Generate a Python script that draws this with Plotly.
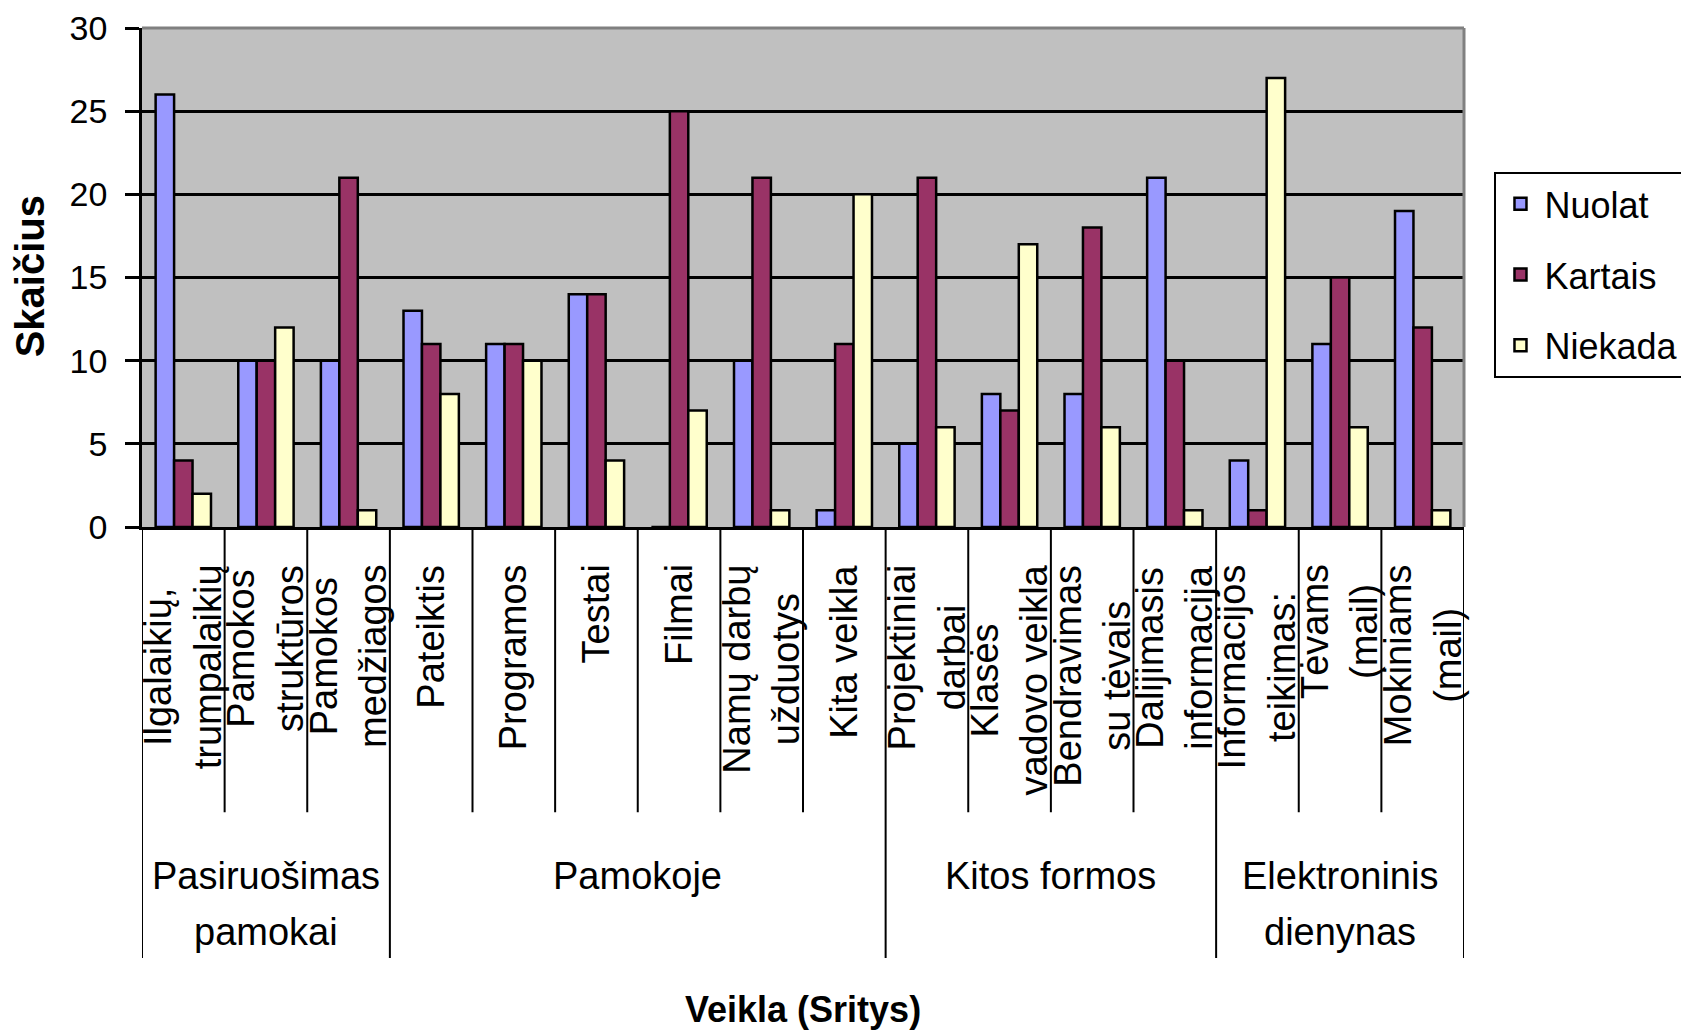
import plotly.graph_objects as go

# ---- data ----
category_lines = [
    ["Ilgalaikių,", "trumpalaikių"],
    ["Pamokos", "struktūros"],
    ["Pamokos", "medžiagos"],
    ["Pateiktis"],
    ["Programos"],
    ["Testai"],
    ["Filmai"],
    ["Namų darbų", "užduotys"],
    ["Kita veikla"],
    ["Projektiniai", "darbai"],
    ["Klasės", "vadovo veikla"],
    ["Bendravimas", "su tėvais"],
    ["Dalijimasis", "informacija"],
    ["Informacijos", "teikimas:"],
    ["Tėvams", "(mail)"],
    ["Mokiniams", "(mail)"],
]
categories = [" ".join(l) for l in category_lines]

group_lines = [["Pasiruošimas", "pamokai"], ["Pamokoje"], ["Kitos formos"], ["Elektroninis", "dienynas"]]
group_sizes = [3, 6, 4, 3]

nuolat = [26, 10, 10, 13, 11, 14, 0, 10, 1, 5, 8, 8, 21, 4, 11, 19]
kartais = [4, 10, 21, 11, 11, 14, 25, 21, 11, 21, 7, 18, 10, 1, 15, 12]
niekada = [2, 12, 1, 8, 10, 4, 7, 1, 20, 6, 17, 6, 1, 27, 6, 1]

series = [("Nuolat", nuolat, "#9999FF"), ("Kartais", kartais, "#993366"), ("Niekada", niekada, "#FFFFCC")]

# ---- geometry (pixels) ----
W, H = 1681, 1030
PL, PR, PT, PB = 141.5, 1464.5, 28, 527.5
plot_h = PB - PT

def py(y_px):
    return (PB - y_px) / plot_h

FONT = "Liberation Sans, Arial, sans-serif"

fig = go.Figure()
for i, (name, vals, col) in enumerate(series):
    fig.add_trace(go.Bar(
        x=categories, y=vals, name=name, legendgroup=name,
        marker=dict(color=col, line=dict(color="black", width=2.5)),
    ))

shapes = []
annotations = []

# category dividers
bounds = [0]
for s in group_sizes:
    bounds.append(bounds[-1] + s)
for i in range(len(categories) + 1):
    is_group = i in bounds
    shapes.append(dict(type="line", xref="x", yref="paper",
                       x0=i - 0.5, x1=i - 0.5, y0=0, y1=py(959 if is_group else 813),
                       line=dict(color="black", width=2), layer="above"))

# category labels (rotated)
for cat, lines in zip(categories, category_lines):
    annotations.append(dict(xref="x", yref="paper", x=cat, y=py(563),
                            text="<br>".join(lines), textangle=-90, showarrow=False,
                            xanchor="center", yanchor="top", align="center",
                            font=dict(family=FONT, size=38, color="black")))

# group labels
for gi, lines in enumerate(group_lines):
    cx = (bounds[gi] + bounds[gi + 1] - 1) / 2.0
    for li, txt in enumerate(lines):
        annotations.append(dict(xref="x", yref="paper", x=cx, y=py(877 + 56 * li),
                                text=txt, showarrow=False, xanchor="center", yanchor="middle",
                                font=dict(family=FONT, size=38, color="black")))

# axis titles
annotations.append(dict(xref="paper", yref="paper", x=0.5, y=py(1010), text="<b>Veikla (Sritys)</b>",
                        showarrow=False, xanchor="center", yanchor="middle",
                        font=dict(family=FONT, size=36, color="black")))
annotations.append(dict(xref="paper", yref="paper", x=(29 - PL) / (PR - PL), y=py(277), text="<b>Skaičius</b>",
                        textangle=-90, showarrow=False, xanchor="center", yanchor="middle",
                        font=dict(family=FONT, size=40, color="black")))

# top / right plot border (gray)
shapes.append(dict(type="line", xref="paper", yref="paper", x0=0, x1=1, y0=1, y1=1,
                   line=dict(color="#808080", width=3), layer="above"))
shapes.append(dict(type="line", xref="paper", yref="paper", x0=1, x1=1, y0=0, y1=1,
                   line=dict(color="#808080", width=3), layer="above"))

fig.update_layout(
    width=W, height=H,
    margin=dict(l=PL, r=W - PR, t=PT, b=H - PB, autoexpand=False),
    paper_bgcolor="white", plot_bgcolor="#C0C0C0",
    barmode="group", bargap=0.33, bargroupgap=0,
    font=dict(family=FONT, color="black"),
    xaxis=dict(type="category", categoryarray=categories, range=[-0.5, len(categories) - 0.5],
               showticklabels=False, ticks="", showgrid=False, zeroline=False,
               showline=True, linecolor="black", linewidth=2.5),
    yaxis=dict(range=[0, 30], dtick=5, tick0=0, showgrid=True, gridcolor="black", gridwidth=2.5,
               zeroline=False, showline=True, linecolor="black", linewidth=2.5,
               ticks="outside", ticklen=14, tickwidth=2.5, tickcolor="black",
               ticklabelstandoff=11, tickfont=dict(family=FONT, size=34, color="black")),
    legend=dict(x=(1495 - PL) / (PR - PL), y=py(172), xanchor="left", yanchor="top",
                bordercolor="black", borderwidth=2, bgcolor="white", itemwidth=38,
                font=dict(family=FONT, size=36, color="black"), tracegroupgap=21),
    shapes=shapes, annotations=annotations,
)

fig.write_html("out.html", config={"displayModeBar": False},
               post_script="document.body.style.margin='0';document.body.style.padding='0';document.body.style.overflow='hidden';")
